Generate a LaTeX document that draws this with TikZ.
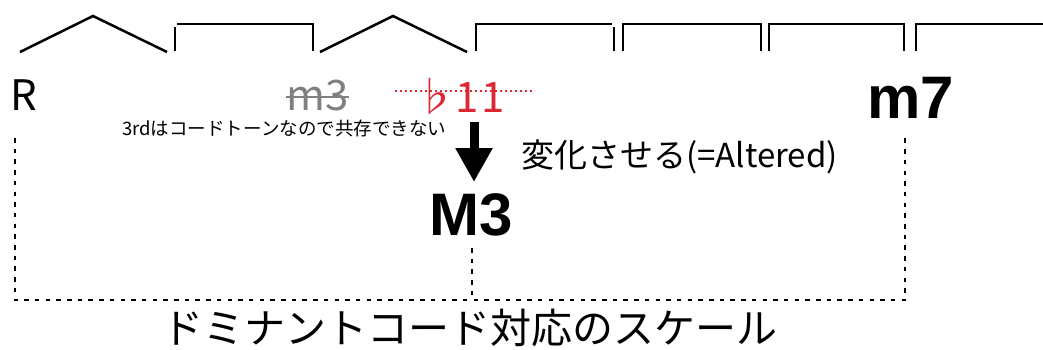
\documentclass[tikz,border=0pt]{standalone}
\usepackage{fontspec}
\setmainfont{Noto Sans CJK JP}
\newfontfamily\boldlat{Liberation Sans}[BoldFont={Liberation Sans Bold}]
\usetikzlibrary{arrows.meta}
\definecolor{redx}{RGB}{220,40,52}
\definecolor{grayx}{RGB}{128,128,128}
\tikzset{
  keyline/.style={line width=2.5pt, line cap=butt, line join=miter},
  lbl/.style={inner sep=0pt, anchor=base west, font=\fontsize{42}{42}\selectfont},
  boldlbl/.style={inner sep=0pt, anchor=base west, font=\boldlat\bfseries\fontsize{60}{60}\selectfont},
  bracketdash/.style={line width=2.2pt, dash pattern=on 4.5pt off 6.2pt},
  bigarrow/.style={line width=9pt, -{Triangle[width=35pt,length=34pt]}},
}
\begin{document}
\begin{tikzpicture}[x=1pt,y=-1pt]
\useasboundingbox (0,0) rectangle (1043,349);
% keyboard-like top outline
\draw[keyline] (20,52) -- (93,16) -- (167,52);
\draw[keyline] (175,51) -- (175,27);
\draw[keyline] (177,24) -- (313,24) -- (313,51);
\draw[keyline] (320,52) -- (393,16) -- (467,52);
\draw[keyline] (476,51) -- (476,24) -- (612,24);
\draw[keyline] (614,27) -- (614,51);
\draw[keyline] (623,51) -- (623,24) -- (761,24) -- (761,51);
\draw[keyline] (769,51) -- (769,24) -- (904,24) -- (904,51);
\draw[keyline] (916,51) -- (916,24) -- (1043,24);
% labels
\node[lbl] (R) at (10,110) {R};
\node[lbl, text=grayx] (m3) at (286,110) {m3};
\draw[grayx, line width=1.8pt] (m3.west |- 0,97) -- (m3.east |- 0,97);
\node[lbl, text=redx] (flat) at (414,112) {♭};
\node[lbl, text=redx] (b11) at (455,112) {1\kern3pt1};
\draw[redx, line width=2pt, dash pattern=on 2pt off 3pt] (395,91) -- (535,91);
\node[boldlbl] (m7) at (867,118) {m7};
\node[inner sep=0pt, anchor=base west, font=\fontsize{18.5}{18.5}\selectfont] (note) at (122,135) {3rdはコードトーンなので共存できない};
\node[inner sep=0pt, anchor=base west, font=\fontsize{33}{33}\selectfont] (alt) at (521,167) {変化させる(=Altered)};
\node[boldlbl] (M3) at (429,235) {M3};
\coordinate (astart) at (474,122);
\coordinate (aend) at (474,182);
\draw[bigarrow] (astart) -- (aend);
% dashed bracket
\coordinate (bl) at (15,138);
\coordinate (br) at (905,138);
\coordinate (bm) at (472,248);
\draw[bracketdash] (bl) -- (15,300) -- (905,300) -- (br);
\draw[bracketdash] (bm) -- (472,300);
\node[inner sep=0pt, anchor=base, font=\fontsize{41}{41}\selectfont] (scale) at (470,343) {ドミナントコード対応のスケール};
\end{tikzpicture}
\end{document}
